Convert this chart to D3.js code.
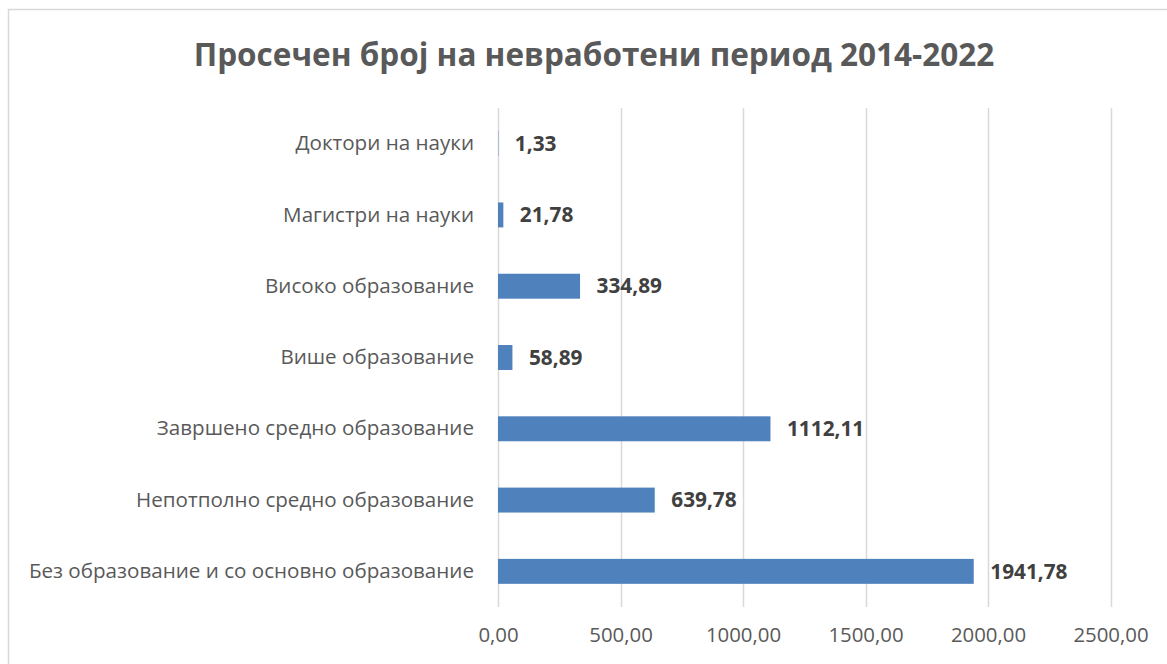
<!DOCTYPE html>
<html>
<head>
<meta charset="utf-8">
<script src="https://cdn.jsdelivr.net/npm/d3@7"></script>
<style>
  html, body { margin: 0; padding: 0; background: #fff; }
  svg { display: block; font-family: 'Open Sans', sans-serif; }
</style>
</head>
<body>
<div id="chart"></div>
<script>
const title = 'Просечен број на невработени период 2014-2022';

// categories top to bottom, as shown
const categories = [
  'Доктори на науки',
  'Магистри на науки',
  'Високо образование',
  'Више образование',
  'Завршено средно образование',
  'Непотполно средно образование',
  'Без образование и со основно образование'
];
const values = [1.33, 21.78, 334.89, 58.89, 1112.11, 639.78, 1941.78];
const xTicks = [0, 500, 1000, 1500, 2000, 2500];

const width = 1167;
const height = 664;
const margin = { top: 108, right: 56, bottom: 57, left: 498 };
const innerW = 2500 * 0.245; // plot width to 2500
const innerH = height - margin.top - margin.bottom;

const fmt = v => d3.format('.2f')(v).replace('.', ',');

const svg = d3.select('#chart')
  .append('svg')
  .attr('width', width)
  .attr('height', height);

// outer chart border
svg.append('rect')
  .attr('x', 8.5)
  .attr('y', 9.5)
  .attr('width', 1200)
  .attr('height', 700)
  .attr('fill', '#fff')
  .attr('stroke', '#d9d9d9')
  .attr('stroke-width', 1.5);

svg.append('text')
  .attr('x', 594)
  .attr('y', 66)
  .attr('text-anchor', 'middle')
  .attr('font-size', 31.5)
  .attr('font-weight', 'bold')
  .attr('fill', '#595959')
  .text(title);

const g = svg.append('g')
  .attr('transform', `translate(${margin.left},${margin.top})`);

const x = d3.scaleLinear()
  .domain([0, 2500])
  .range([0, innerW]);

const y = d3.scaleBand()
  .domain(categories)
  .range([0, innerH])
  .paddingInner(0.65)
  .paddingOuter(0.325);

// gridlines
g.append('g')
  .selectAll('line')
  .data(xTicks)
  .enter()
  .append('line')
  .attr('x1', d => Math.round(x(d)) + 0.5)
  .attr('x2', d => Math.round(x(d)) + 0.5)
  .attr('y1', 0)
  .attr('y2', innerH)
  .attr('stroke', '#d9d9d9')
  .attr('stroke-width', 1.5);

// x axis labels
const xAxis = g.append('g')
  .attr('transform', `translate(0,${innerH})`)
  .call(d3.axisBottom(x).tickValues(xTicks).tickFormat(fmt).tickSize(0).tickPadding(21));
xAxis.select('.domain').remove();
xAxis.selectAll('text')
  .attr('font-family', "'Open Sans', sans-serif")
  .attr('font-size', 20.4)
  .attr('fill', '#595959');

// y axis labels
const yAxis = g.append('g')
  .call(d3.axisLeft(y).tickSize(0).tickPadding(24));
yAxis.select('.domain').remove();
yAxis.selectAll('text')
  .attr('font-family', "'Open Sans', sans-serif")
  .attr('font-size', 20.6)
  .attr('fill', '#595959');

// bars
g.selectAll('.bar')
  .data(values)
  .enter()
  .append('rect')
  .attr('class', 'bar')
  .attr('x', 0)
  .attr('y', (d, i) => y(categories[i]))
  .attr('width', d => x(d))
  .attr('height', y.bandwidth())
  .attr('fill', '#4f81bd');

// data labels
g.selectAll('.lbl')
  .data(values)
  .enter()
  .append('text')
  .attr('class', 'lbl')
  .attr('x', d => x(d) + 16.5)
  .attr('y', (d, i) => y(categories[i]) + y.bandwidth() / 2)
  .attr('dy', '0.35em')
  .attr('font-size', 20.8)
  .attr('font-weight', 'bold')
  .attr('fill', '#404040')
  .text(fmt);
</script>
</body>
</html>
